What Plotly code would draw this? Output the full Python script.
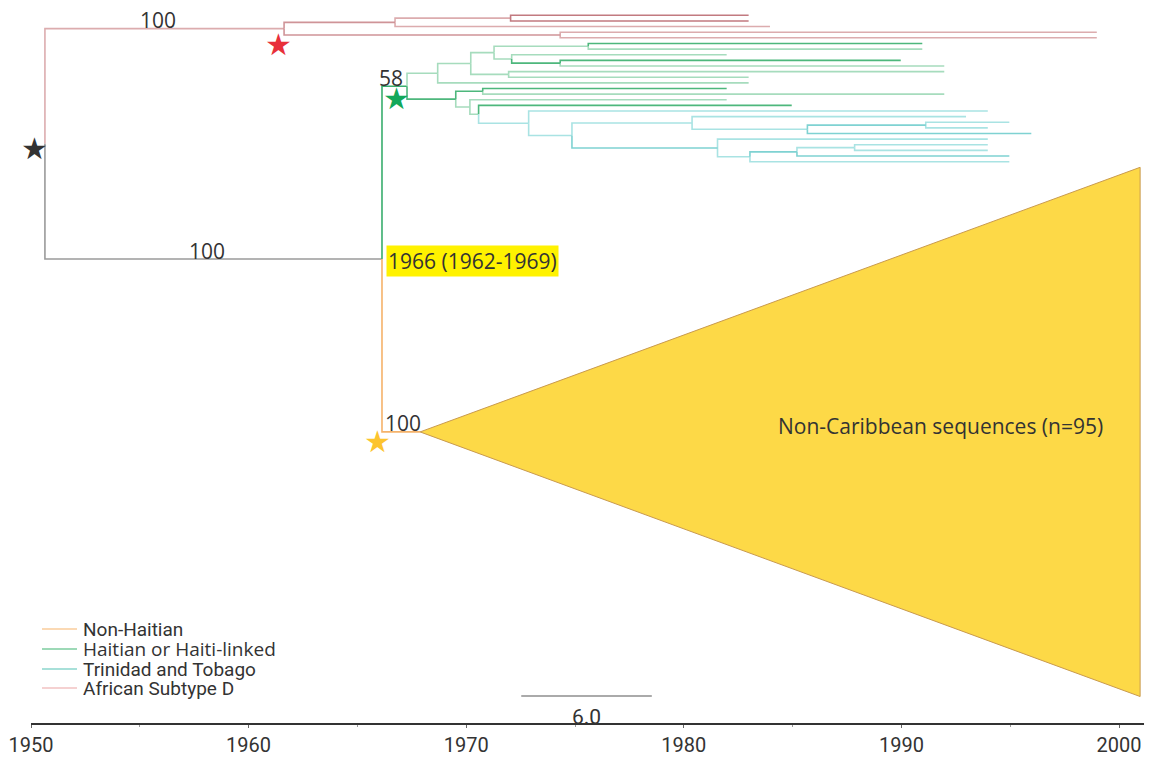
import plotly.graph_objects as go

# ---------------- data ----------------
# tree nodes: id, parent, node date (years)
node_ids = ["root",
            "D", "D1", "D1a", "t0", "t1", "t2", "D2", "t3", "t4",
            "C", "H", "H1", "H1a", "H1a1", "H1a1a", "t5", "t6",
            "H1a1b", "t7", "H1a1b1", "t8", "t9",
            "H1a2", "t10", "t11", "t12",
            "H2", "H2a", "t13", "t14", "H2b", "t15", "H2b1", "t16",
            "T", "t17", "T1", "T1a", "t18", "T1a1", "T1a1a", "t19", "t20", "t21",
            "T1b", "t22", "T1b1", "T1b1a", "T1b1a1", "t23", "t24", "t25", "t26",
            "NC"]
node_parents = [None,
                "root", "D", "D1", "D1a", "D1a", "D1", "D", "D2", "D2",
                "root", "C", "H", "H1", "H1a", "H1a1", "H1a1a", "H1a1a",
                "H1a1", "H1a1b", "H1a1b", "H1a1b1", "H1a1b1",
                "H1a", "H1a2", "H1a2", "H1",
                "H", "H2", "H2a", "H2a", "H2", "H2b", "H2b", "H2b1",
                "H2b1", "T", "T", "T1", "T1a", "T1a", "T1a1", "T1a1a", "T1a1a", "T1a1",
                "T1", "T1b", "T1b", "T1b1", "T1b1a", "T1b1a1", "T1b1a1", "T1b1a", "T1b1",
                "C"]
node_years = [1950.64,
              1961.63, 1966.73, 1972.04, 1982.98, 1982.98, 1983.96, 1974.32, 1998.98, 1998.98,
              1966.13, 1967.28, 1968.69, 1970.21, 1971.28, 1975.61, 1990.96, 1990.96,
              1972.09, 1981.97, 1974.32, 1989.97, 1991.97,
              1971.95, 1991.97, 1982.98, 1982.98,
              1969.52, 1970.76, 1981.97, 1991.97, 1970.17, 1981.97, 1970.57, 1984.96,
              1972.87, 1993.97, 1974.86, 1980.38, 1992.97, 1985.68, 1991.12, 1994.96, 1993.97, 1995.97,
              1981.55, 1993.97, 1983.04, 1985.20, 1987.85, 1993.97, 1993.97, 1994.96, 1994.96,
              1967.88]
tip_order = ["t0", "t1", "t2", "t3", "t4", "t5", "t6", "t7", "t8", "t9", "t10", "t11",
             "t12", "t13", "t14", "t15", "t16", "t17", "t18", "t19", "t20", "t21", "t22",
             "t23", "t24", "t25", "t26"]

# collapsed clade
collapsed_node = "NC"
collapsed_n = 95
collapsed_latest = 2000.97
collapsed_label = "Non-Caribbean sequences (n=95)"
collapsed_label_year = 1991.8
collapsed_label_offset = -1.0  # tip rows above clade centre

# support values
support_nodes = ["D", "C", "H", "NC"]
support_values = ["100", "100", "58", "100"]

# tMRCA of the Caribbean clade
tmrca_node = "C"
tmrca_median = 1966
tmrca_hpd = (1962, 1969)

# stars on nodes
star_nodes = ["root", "D", "H", "NC"]
star_colors = ["#333333", "#e8303a", "#12a85a", "#fcc42e"]

# legend
legend_names = ["Non-Haitian", "Haitian or Haiti-linked", "Trinidad and Tobago", "African Subtype D"]
legend_colors = ["#f7b36b", "#3cb371", "#52c2b4", "#eba3a3"]

# scale bar
scale_len = 6.0
scale_start = 1972.53

# axis ticks
tick_years = [1950, 1960, 1970, 1980, 1990, 2000]

# ---------------- styles ----------------
PINK_L, PINK_M, PINK_D = "#dcacae", "#cf9498", "#c27a80"
GRN_L, GRN_D = "#a6dcbd", "#4db77c"
CY_L, CY_D = "#a9e3e3", "#7fd2d2"
branch_color = {
    "D": PINK_L, "D1": PINK_M, "D1a": PINK_L, "t0": PINK_D, "t1": PINK_D, "t2": PINK_L,
    "D2": PINK_M, "t3": PINK_L, "t4": PINK_L,
    "C": "#9a9a9a", "H": "#3aae6e", "NC": "#f5b26a",
    "H1": GRN_L, "H1a": GRN_L, "H1a1": GRN_L, "H1a1a": GRN_L, "t5": GRN_D, "t6": GRN_L,
    "H1a1b": GRN_L, "t7": GRN_L, "H1a1b1": GRN_D, "t8": GRN_D, "t9": GRN_L,
    "H1a2": GRN_L, "t10": GRN_L, "t11": GRN_L, "t12": GRN_L,
    "H2": GRN_D, "H2a": GRN_D, "t13": GRN_D, "t14": GRN_L, "H2b": GRN_L, "t15": GRN_L,
    "H2b1": GRN_L, "t16": GRN_D,
    "T": CY_L, "t17": CY_L, "T1": CY_L, "T1a": CY_L, "t18": CY_L, "T1a1": CY_L,
    "T1a1a": CY_D, "t19": CY_L, "t20": CY_L, "t21": CY_D,
    "T1b": CY_D, "t22": CY_L, "T1b1": CY_L, "T1b1a": CY_D, "T1b1a1": CY_L,
    "t23": CY_L, "t24": CY_L, "t25": CY_D, "t26": CY_L,
}
support_shift = [(-7, -7.5), (-6, -7.5), (-4, -7.5), (1.5, -7)]
star_shift = [(-10, -5), (-6, -16), (-11, -12), (-43, -10)]
TXT = "#333333"
LABEL_FONT = "Open Sans, Noto Sans, sans-serif"
NARROW_FONT = "Roboto, Liberation Sans, sans-serif"

# ---------------- layout of tree ----------------
year = dict(zip(node_ids, node_years))
parent = dict(zip(node_ids, node_parents))
children = {n: [] for n in node_ids}
for n, p in zip(node_ids, node_parents):
    if p is not None:
        children[p].append(n)

n_tips = len(tip_order)
ypos = {}
for i, t in enumerate(tip_order):
    ypos[t] = i
coll_top = n_tips
coll_bot = n_tips + collapsed_n - 1
ypos[collapsed_node] = (coll_top + coll_bot) / 2


def get_y(n):
    if n not in ypos:
        ys = [get_y(c) for c in children[n]]
        ypos[n] = sum(ys) / len(ys)
    return ypos[n]


for n in node_ids:
    get_y(n)

fig = go.Figure()

# group branches by colour
groups = {}
for n in node_ids:
    p = parent[n]
    if p is None:
        continue
    c = branch_color[n]
    gx, gy = groups.setdefault(c, ([], []))
    gx += [year[p], year[p], year[n], None]
    gy += [ypos[p], ypos[n], ypos[n], None]

for c, (gx, gy) in groups.items():
    fig.add_trace(go.Scatter(x=gx, y=gy, mode="lines", line=dict(color=c, width=1.6),
                             hoverinfo="skip", showlegend=False))

# collapsed triangle
fig.add_trace(go.Scatter(
    x=[year[collapsed_node], collapsed_latest, collapsed_latest, year[collapsed_node]],
    y=[ypos[collapsed_node], coll_top, coll_bot, ypos[collapsed_node]],
    mode="lines", fill="toself", fillcolor="#fdd947",
    line=dict(color="#c99a4e", width=1), hoverinfo="skip", showlegend=False))

ann = []
# collapsed label
ann.append(dict(x=collapsed_label_year, y=ypos[collapsed_node] + collapsed_label_offset,
                text=collapsed_label, showarrow=False,
                font=dict(family=LABEL_FONT, size=21, color=TXT)))

# support values, centred on branches
for n, v, (sx, sy) in zip(support_nodes, support_values, support_shift):
    p = parent[n]
    ann.append(dict(x=(year[p] + year[n]) / 2, y=ypos[n], text=v, showarrow=False,
                    xanchor="center", yanchor="bottom", xshift=sx, yshift=sy,
                    font=dict(family=LABEL_FONT, size=21, color=TXT)))

# tMRCA label
ann.append(dict(x=year[tmrca_node], y=ypos[tmrca_node],
                text=f"{tmrca_median} ({tmrca_hpd[0]}-{tmrca_hpd[1]})", showarrow=False,
                xanchor="left", yanchor="middle", xshift=4, yshift=-2,
                bgcolor="#fff200", borderpad=1,
                font=dict(family=LABEL_FONT, size=21, color=TXT)))

# stars
for n, col, (sx, sy) in zip(star_nodes, star_colors, star_shift):
    ann.append(dict(x=year[n], y=ypos[n], text="★", showarrow=False,
                    xshift=sx, yshift=sy,
                    font=dict(family="DejaVu Sans", size=30, color=col)))

# legend (pixel positions in plot area)
PLOT_H = 724.0
PLOT_W = 1151.0
leg_x0, leg_x1, leg_text_x = 42, 77, 81
leg_y = [629, 649, 669, 688]
leg_font = [NARROW_FONT, LABEL_FONT, NARROW_FONT, NARROW_FONT]
leg_size = [19, 19, 19, 19]
shapes = []
for name, col, py, ff, fs in zip(legend_names, legend_colors, leg_y, leg_font, leg_size):
    yp = 1 - py / PLOT_H
    shapes.append(dict(type="line", xref="paper", yref="paper",
                       x0=leg_x0 / PLOT_W, x1=leg_x1 / PLOT_W, y0=yp, y1=yp,
                       line=dict(color=col, width=1.2)))
    ann.append(dict(xref="paper", yref="paper", x=leg_text_x / PLOT_W, y=yp, text=name,
                    showarrow=False, xanchor="left", yanchor="middle",
                    font=dict(family=ff, size=fs, color=TXT)))

# scale bar
scale_y = coll_bot - 0.1
shapes.append(dict(type="line", xref="x", yref="y", x0=scale_start, x1=scale_start + scale_len,
                   y0=scale_y, y1=scale_y, line=dict(color="#aaaaaa", width=2)))
ann.append(dict(x=scale_start + scale_len / 2, y=scale_y, text=f"{scale_len:.1f}",
                showarrow=False, yanchor="top", yshift=-7,
                font=dict(family=NARROW_FONT, size=21, color=TXT)))

# axis line
shapes.append(dict(type="line", xref="x", yref="paper", x0=tick_years[0],
                   x1=collapsed_latest + 0.18, y0=0, y1=0,
                   line=dict(color="#333333", width=2.2)))

x_lo = 1950 - 31 / 21.76
x_hi = 1950 + (1151 - 31) / 21.76
y_top = -15.3 / 5.63
y_bot = (724 - 15.3) / 5.63

fig.update_layout(
    width=1151, height=759,
    margin=dict(l=0, r=0, t=0, b=35),
    plot_bgcolor="white", paper_bgcolor="white",
    showlegend=False,
    xaxis=dict(range=[x_lo, x_hi], showgrid=False, zeroline=False, showline=False,
               tickvals=tick_years, ticktext=[str(t) for t in tick_years],
               ticks="outside", ticklen=3, tickcolor="#666666", tickwidth=1,
               minor=dict(dtick=5, ticks="outside", ticklen=2, tickcolor="#999999"),
               tickfont=dict(family=NARROW_FONT, size=20, color=TXT)),
    yaxis=dict(range=[y_bot, y_top], visible=False, showgrid=False, zeroline=False),
    annotations=ann, shapes=shapes,
)

fig.write_html("out.html", config={"displayModeBar": False},
               post_script="document.body.style.margin='0px';document.body.style.overflow='hidden';")
